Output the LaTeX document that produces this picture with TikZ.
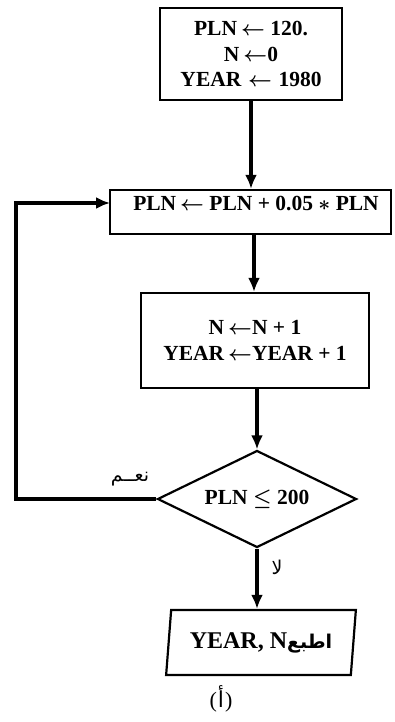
\documentclass[tikz,border=0pt]{standalone}
\usepackage{fontspec}
\setmainfont{Liberation Serif}
\newfontfamily\arabicfont[Script=Arabic]{DejaVu Sans}
\TeXXeTstate=1
\usetikzlibrary{shapes.geometric,arrows.meta}
\begin{document}
\begin{tikzpicture}[x=1pt,y=-1pt,
  font=\fontsize{21.5}{25.5}\selectfont\bfseries\boldmath,
  box/.style={draw, line width=2.2pt, align=center, inner sep=0pt},
  arr/.style={-{Latex[length=14pt,width=12pt]}, line width=3.2pt},
  lab/.style={font=\arabicfont\fontsize{19}{22}\selectfont}]
\useasboundingbox (0,0) rectangle (394,722);
\node[box, minimum width=182pt, minimum height=92pt] (b1) at (251,54)
  {PLN$\,\leftarrow$ 120.\\ N$\,\leftarrow$0\\ YEAR$\;\leftarrow\;$1980};
\node[box, minimum width=281pt, minimum height=44pt] (b2) at (250.5,212) {};
\node (t2) at (256,204) {PLN$\,\leftarrow$ PLN + 0.05 $*$ PLN};
\node[box, minimum width=228pt, minimum height=95pt] (b3) at (255,340.5)
  {N$\,\leftarrow$N + 1\\ YEAR$\,\leftarrow$YEAR + 1};
\node[draw, diamond, aspect=2, line width=2.2pt, minimum width=199pt, minimum height=97pt, inner sep=0pt] (d) at (257,499) {PLN $\leq$ 200};
\node[draw, trapezium, trapezium left angle=79, trapezium right angle=101, trapezium stretches=true,
  line width=2.2pt, minimum width=190pt, minimum height=65pt, inner sep=0pt] (out) at (261,642.5)
  {\fontsize{24}{26}\selectfont YEAR, N\hspace{0pt}{\arabicfont\fontsize{19}{22}\selectfont\beginR اطبع\endR}};
\coordinate (loop) at (16,499);
\coordinate (b2in) at (110,203);
\draw[arr] (b1.south) -- (b1.south |- b2.north);
\draw[arr] (b2.south -| 254,0) -- (254,0 |- b3.north);
\draw[arr] (b3.south -| d.north) -- (d.north);
\draw[arr] (d.south) -- (d.south |- out.north);
\draw[arr] (d.west) -- (loop) |- (b2in);
\node[lab] (yes) at (130,479) {\beginR نعــم\endR};
\node[lab] (no) at (277,567) {\beginR لا\endR};
\node[font=\fontsize{22}{24}\selectfont] (cap) at (221,699) {(\hspace{1pt}{\arabicfont أ}\hspace{1pt})};
\end{tikzpicture}
\end{document}
